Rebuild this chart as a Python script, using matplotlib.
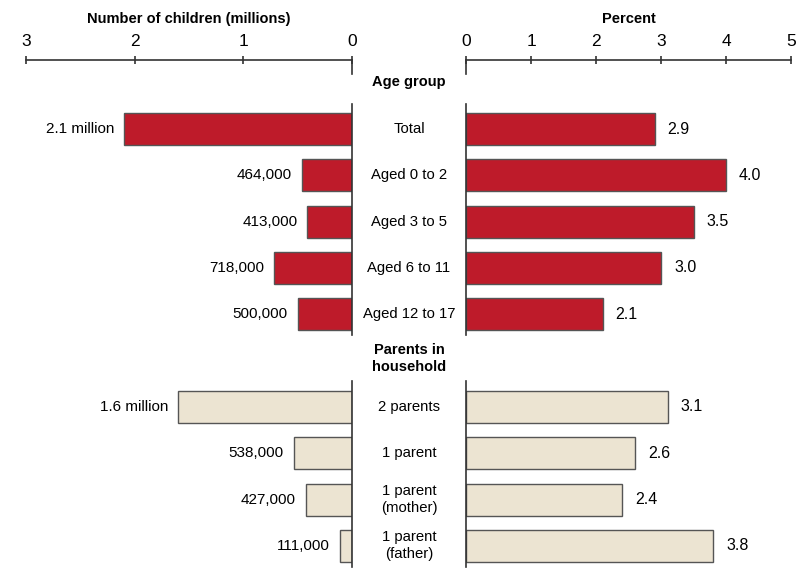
import matplotlib
matplotlib.use("Agg")
import matplotlib.pyplot as plt
import matplotlib.transforms as mtransforms
import numpy as np

plt.rcParams['font.family'] = ['Liberation Sans', 'DejaVu Sans']

# Datos
grupos = ['Total', 'Aged 0 to 2', 'Aged 3 to 5', 'Aged 6 to 11', 'Aged 12 to 17',
          '2 parents', '1 parent', '1 parent\n(mother)', '1 parent\n(father)']
millones = [2.1, 0.464, 0.413, 0.718, 0.500, 1.6, 0.538, 0.427, 0.111]
etiquetas_num = ['2.1 million', '464,000', '413,000', '718,000', '500,000',
                 '1.6 million', '538,000', '427,000', '111,000']
porcentaje = [2.9, 4.0, 3.5, 3.0, 2.1, 3.1, 2.6, 2.4, 3.8]
seccion = [0, 0, 0, 0, 0, 1, 1, 1, 1]
encabezados = ['Age group', 'Parents in\nhousehold']

rojo = '#BE1B2A'
beige = '#ECE4D2'
borde = '#555555'
fs = 11

# posiciones: un hueco entre secciones
pos = np.array([i + s for i, s in enumerate(seccion)], dtype=float)
colores = [rojo if s == 0 else beige for s in seccion]

W, H = 801, 569
fig = plt.figure(figsize=(W / 100, H / 100), dpi=100)
top = 60
ax_l = fig.add_axes([26 / W, 0, (352 - 26) / W, (H - top) / H])
ax_r = fig.add_axes([466 / W, 0, (791 - 466) / W, (H - top) / H])

ylo, yhi = 9.5, -1.49
for ax in (ax_l, ax_r):
    ax.set_ylim(ylo, yhi)
    for s in ['left', 'right', 'bottom']:
        ax.spines[s].set_visible(False)
    ax.spines['top'].set_color('#333333')
    ax.spines['top'].set_linewidth(1.2)
    ax.xaxis.set_ticks_position('top')
    ax.xaxis.set_label_position('top')
    ax.tick_params(axis='x', direction='inout', length=6, width=1.2, color='#333333',
                   labelsize=12.5, pad=5)
    ax.set_yticks([])
    ax.patch.set_alpha(0)

ax_l.set_xlim(3, 0)
ax_l.set_xticks([3, 2, 1, 0])
ax_l.set_xlabel('Number of children (millions)', fontsize=10.5, fontweight='bold', labelpad=8)
ax_r.set_xlim(0, 5)
ax_r.set_xticks([0, 1, 2, 3, 4, 5])
ax_r.set_xlabel('Percent', fontsize=10.5, fontweight='bold', labelpad=8)

alto = 0.69
ax_l.barh(pos, millones, height=alto, color=colores, edgecolor=borde, linewidth=1)
ax_r.barh(pos, porcentaje, height=alto, color=colores, edgecolor=borde, linewidth=1)

for p, v, t in zip(pos, millones, etiquetas_num):
    ax_l.text(v + 0.09, p, t, ha='right', va='center', fontsize=fs)
for p, v in zip(pos, porcentaje):
    ax_r.text(v + 0.2, p, f'{v:.1f}', ha='left', va='center', fontsize=fs + 0.5)

# lineas verticales en el cero
for ax in (ax_l, ax_r):
    ax.plot([0, 0], [yhi, yhi + 0.3], color='#333333', lw=1.2, clip_on=False)
    for s in set(seccion):
        ps = pos[np.array(seccion) == s]
        ax.plot([0, 0], [ps.min() - 0.55, min(ps.max() + 0.45, ylo)],
                color='#333333', lw=1.2, clip_on=False)

# etiquetas centrales
trans = mtransforms.blended_transform_factory(fig.transFigure, ax_l.transData)
xc = 409 / W
for p, g in zip(pos, grupos):
    ax_l.text(xc, p, g, transform=trans, ha='center', va='center', fontsize=10.7,
              linespacing=1.3, clip_on=False)
for s, e in enumerate(encabezados):
    ps = pos[np.array(seccion) == s]
    ax_l.text(xc, ps.min() - 1.05 + (0.03 if s == 0 else 0), e, transform=trans,
              ha='center', va='center', fontsize=10.5, fontweight='bold',
              linespacing=1.3, clip_on=False)

fig.savefig('out.png', dpi=100)
